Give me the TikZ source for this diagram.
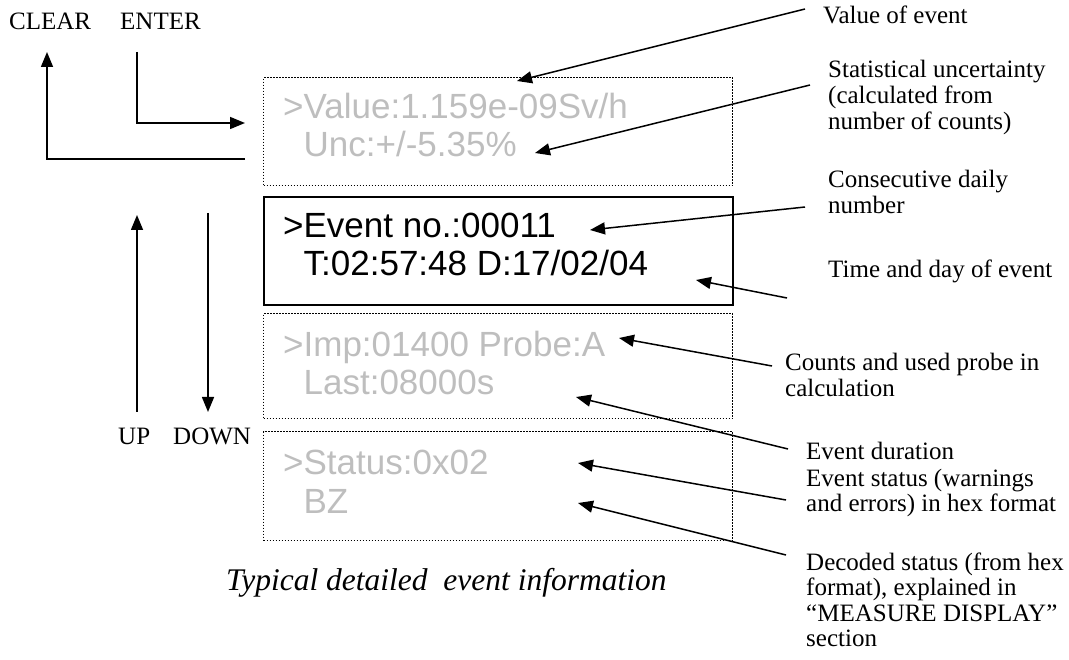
\documentclass[tikz,border=0pt]{standalone}
\usepackage{fontspec}
\setmainfont{Liberation Serif}
\newfontfamily\lcdfont{Liberation Sans}
\usetikzlibrary{arrows.meta}
\definecolor{lcdgray}{RGB}{190,190,190}
\begin{document}
\begin{tikzpicture}[x=1pt,y=-1pt,
  lbl/.style={font=\fontsize{25}{26}\selectfont, anchor=base west, inner sep=0pt},
  captxt/.style={font=\fontsize{31.5}{33}\selectfont\itshape, anchor=base west, inner sep=0pt},
  lcd/.style={font=\lcdfont\fontsize{35}{38}\selectfont, anchor=base west, inner sep=0pt},
  dimtext/.style={text=lcdgray},
  dotbox/.style={draw, line width=1.1pt, dash pattern=on 1.1pt off 1.9pt, anchor=north west, inner sep=0pt, minimum width=469pt},
  solidbox/.style={draw, line width=1.6pt, anchor=north west, inner sep=0pt, minimum width=469pt},
  arr/.style={line width=1.5pt, -{Triangle[length=15pt,width=12pt]}},
]
\useasboundingbox (0,0) rectangle (1069,660);

% display boxes
\node[dotbox, minimum height=108pt] (b1) at (263,77) {};
\node[solidbox, minimum height=108pt] (b2) at (263,196) {};
\node[dotbox, minimum height=105pt] (b3) at (263,313) {};
\node[dotbox, minimum height=109pt] (b4) at (263,431) {};

% display texts
\node[lcd, dimtext] (t1a) at (283,119) {>Value:1.159e-09Sv/h};
\node[lcd, dimtext] (t1b) at (283,157) {\phantom{>}Unc:+/-5.35\%};
\node[lcd] (t2a) at (283,238) {>Event no.:00011};
\node[lcd] (t2b) at (283,276) {\phantom{>}T:02:57:48 D:17/02/04};
\node[lcd, dimtext] (t3a) at (283,357) {>Imp:01400 Probe:A};
\node[lcd, dimtext] (t3b) at (283,395) {\phantom{>}Last:08000s};
\node[lcd, dimtext] (t4a) at (283,474) {>Status:0x02};
\node[lcd, dimtext] (t4b) at (283,513) {\phantom{>}BZ};

% key labels
\node[lbl] (clear) at (9,30) {CLEAR};
\node[lbl] (enter) at (120,30) {ENTER};
\node[lbl] (up) at (118,445) {UP};
\node[lbl] (down) at (173,445) {DOWN};

% key arrows
\coordinate (clrS) at (245,159);
\coordinate (clrC) at (47,159);
\coordinate (clrT) at (47,52);
\draw[arr] (clrS) -- (clrC) -- (clrT);
\coordinate (entS) at (137,52);
\coordinate (entC) at (137,123);
\coordinate (entT) at (245,123);
\draw[arr] (entS) -- (entC) -- (entT);
\coordinate (upS) at (137,412);
\coordinate (upT) at (137,215);
\draw[arr] (upS) -- (upT);
\coordinate (dnS) at (208,213);
\coordinate (dnT) at (208,412);
\draw[arr] (dnS) -- (dnT);

% right-hand labels
\node[lbl] (l1) at (823,24) {Value of event};
\node[lbl] (l2a) at (828,78) {Statistical uncertainty};
\node[lbl] (l2b) at (828,104) {(calculated from};
\node[lbl] (l2c) at (828,130) {number of counts)};
\node[lbl] (l3a) at (828,188) {Consecutive daily};
\node[lbl] (l3b) at (828,213.5) {number};
\node[lbl] (l4) at (828,278) {Time and day of event};
\node[lbl] (l5a) at (785,371) {Counts and used probe in};
\node[lbl] (l5b) at (785,397) {calculation};
\node[lbl] (l6) at (806,460) {Event duration};
\node[lbl] (l7a) at (806,486) {Event status (warnings};
\node[lbl] (l7b) at (806,511.5) {and errors) in hex format};
\node[lbl] (l8a) at (806,570) {Decoded status (from hex};
\node[lbl] (l8b) at (806,595.5) {format), explained in};
\node[lbl] (l8c) at (806,621) {``MEASURE DISPLAY''};
\node[lbl] (l8d) at (806,646.5) {section};

% leader arrows
\coordinate (aS1) at (805,9);   \coordinate (aT1) at (517,81);
\coordinate (aS2) at (810,85);  \coordinate (aT2) at (535,153);
\coordinate (aS3) at (805,207); \coordinate (aT3) at (590,230);
\coordinate (aS4) at (787,298); \coordinate (aT4) at (696,280);
\coordinate (aS5) at (772,366); \coordinate (aT5) at (619,338);
\coordinate (aS6) at (788,449); \coordinate (aT6) at (576,397);
\coordinate (aS7) at (786,500); \coordinate (aT7) at (578,463);
\coordinate (aS8) at (786,555); \coordinate (aT8) at (578,503);
\foreach \i in {1,...,8} {\draw[arr] (aS\i) -- (aT\i);}

% caption
\node[captxt] (caption) at (226,590) {Typical detailed\ \ event information};
\end{tikzpicture}
\end{document}
